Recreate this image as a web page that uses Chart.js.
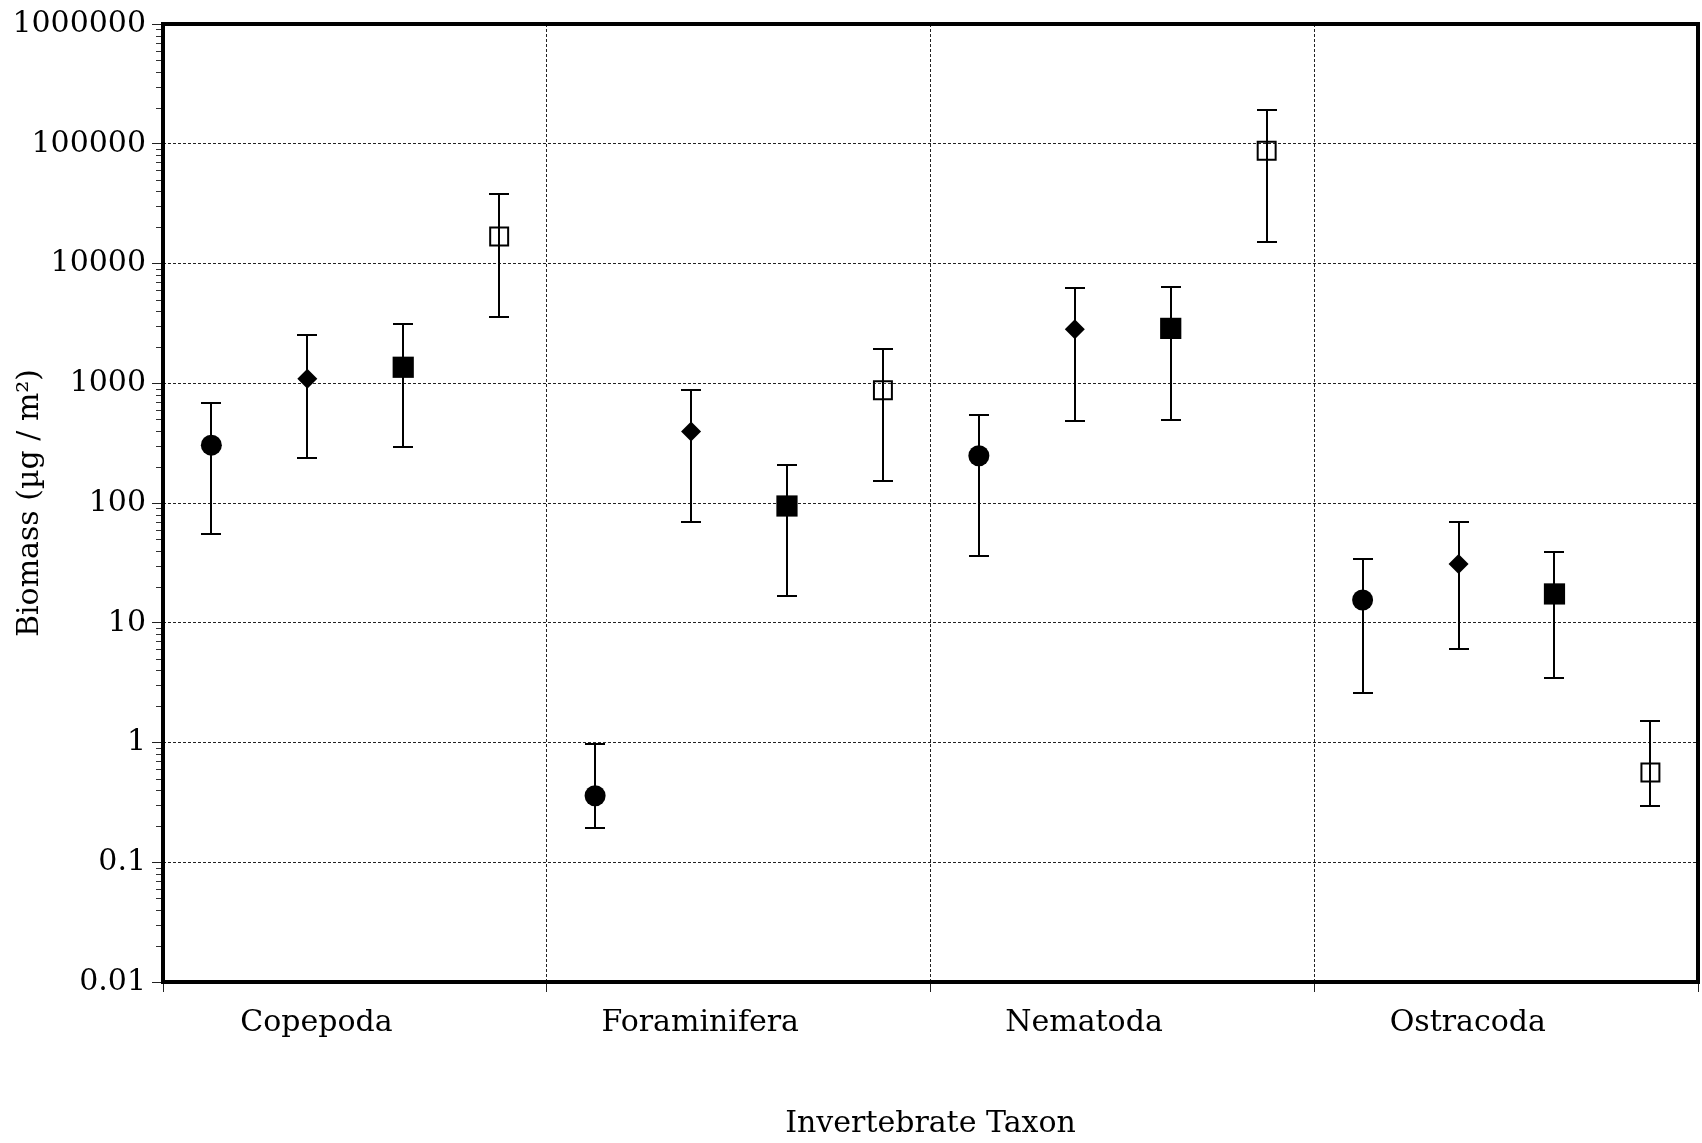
<!DOCTYPE html>
<html>
<head>
<meta charset="utf-8">
<script src="https://cdn.jsdelivr.net/npm/chart.js@4.4.1/dist/chart.umd.min.js"></script>
<style>
    html, body { margin: 0; padding: 0; background: #fff; overflow: hidden; }
    canvas { display: block; }
</style>
</head>
<body>
<canvas id="biomassChart" width="1702" height="1143"></canvas>
<script>
const taxa = ['Copepoda', 'Foraminifera', 'Nematoda', 'Ostracoda'];
const yTickLabels = ['0.01', '0.1', '1', '10', '100', '1000', '10000', '100000', '1000000'];

// Mean biomass with lower / upper error limits, one value per taxon
const circleMean = [304, 0.359, 248, 15.5];
const circleLow = [55, 0.194, 35.9, 2.59];
const circleHigh = [689, 0.968, 544, 34.3];

const diamondMean = [1092, 395, 2818, 31.0];
const diamondLow = [237, 68.9, 482, 6.03];
const diamondHigh = [2512, 879, 6223, 69.5];

const squareMean = [1360, 94.4, 2872, 17.4];
const squareLow = [294, 16.7, 497, 3.45];
const squareHigh = [3120, 208, 6386, 39.3];

const openSquareMean = [16790, 874, 87400, 0.562];
const openSquareLow = [3590, 153, 15060, 0.296];
const openSquareHigh = [38300, 1942, 193000, 1.51];

const FONT = { family: "'DejaVu Serif', serif", size: 30 };
const GRID_COLOR = '#222';
const LABEL_POS = 0.4;   // where the taxon name sits inside its unit

// each taxon occupies one unit on x; the four series sit at quarter steps inside it
function makeSeries(slot, mean, low, high, style) {
    return Object.assign({
        data: mean.map((v, i) => ({
            x: i + 0.126 + 0.25 * slot,
            y: v,
            low: low[i],
            high: high[i]
        })),
        borderColor: '#000',
        backgroundColor: '#000',
        borderWidth: 0
    }, style);
}

// vertical bars with caps, drawn under the markers
const errorBars = {
    id: 'errorBars',
    beforeDatasetsDraw(chart) {
        const { ctx } = chart;
        const y = chart.scales.y;
        ctx.save();
        ctx.strokeStyle = '#000';
        ctx.lineWidth = 2;
        chart.data.datasets.forEach((ds, di) => {
            chart.getDatasetMeta(di).data.forEach((pt, i) => {
                const x = Math.round(pt.x);
                const yLow = Math.round(y.getPixelForValue(ds.data[i].low));
                const yHigh = Math.round(y.getPixelForValue(ds.data[i].high));
                ctx.beginPath();
                ctx.moveTo(x, yLow);
                ctx.lineTo(x, yHigh);
                ctx.moveTo(x - 10, yLow);
                ctx.lineTo(x + 10, yLow);
                ctx.moveTo(x - 10, yHigh);
                ctx.lineTo(x + 10, yHigh);
                ctx.stroke();
            });
        });
        ctx.restore();
    }
};

// heavy box round the plot and the short minor ticks of the log axis
const frame = {
    id: 'frame',
    afterDraw(chart) {
        const { ctx, chartArea: a } = chart;
        const y = chart.scales.y;
        ctx.save();
        ctx.strokeStyle = '#333';
        ctx.lineWidth = 1;
        ctx.beginPath();
        for (let e = -2; e < 6; e++) {
            for (let m = 2; m <= 9; m++) {
                const py = Math.round(y.getPixelForValue(m * Math.pow(10, e))) + 0.5;
                ctx.moveTo(a.left - 7, py);
                ctx.lineTo(a.left, py);
            }
        }
        ctx.stroke();
        ctx.strokeStyle = '#000';
        ctx.lineWidth = 4;
        ctx.strokeRect(a.left, a.top, a.right - a.left, a.bottom - a.top);
        ctx.restore();
    }
};

new Chart(document.getElementById('biomassChart'), {
    type: 'scatter',
    data: {
        datasets: [
            makeSeries(0, circleMean, circleLow, circleHigh, { pointStyle: 'circle', pointRadius: 10.5 }),
            makeSeries(1, diamondMean, diamondLow, diamondHigh, { pointStyle: 'rectRot', pointRadius: 10 }),
            makeSeries(2, squareMean, squareLow, squareHigh, { pointStyle: 'rect', pointRadius: 15 }),
            makeSeries(3, openSquareMean, openSquareLow, openSquareHigh, {
                pointStyle: 'rect', pointRadius: 12.7,
                backgroundColor: 'rgba(0,0,0,0)', borderWidth: 2
            })
        ]
    },
    options: {
        responsive: false,
        animation: false,
        devicePixelRatio: 1,
        events: [],
        // no extra room for big markers, the plot box is fixed
        layout: { autoPadding: false, padding: { top: 21, right: 4, bottom: 0, left: 0 } },
        plugins: { legend: { display: false }, tooltip: { enabled: false } },
        scales: {
            x: {
                type: 'linear',
                min: 0,
                max: taxa.length,
                // boundary ticks at whole units, name ticks just left of the middle
                afterBuildTicks: s => {
                    s.ticks = [];
                    for (let i = 0; i <= taxa.length; i++) {
                        s.ticks.push({ value: i });
                        if (i < taxa.length) s.ticks.push({ value: i + LABEL_POS });
                    }
                },
                afterFit: s => {
                    s.height = 161;
                    s.paddingLeft = 0;
                    s.paddingRight = 0;
                },
                grid: {
                    color: GRID_COLOR,
                    lineWidth: c => (c.tick && c.tick.value % 1 === 0 ? 1 : 0),
                    tickLength: 10
                },
                border: { display: false, dash: [3, 2] },
                ticks: {
                    autoSkip: false,
                    maxRotation: 0,
                    padding: 13,
                    color: '#000',
                    font: FONT,
                    callback: v => (v % 1 === 0 ? '' : taxa[Math.floor(v)])
                },
                title: {
                    display: true,
                    text: 'Invertebrate Taxon',
                    color: '#000',
                    font: FONT,
                    padding: { top: 0, bottom: 1 }
                }
            },
            y: {
                type: 'logarithmic',
                min: 0.01,
                max: 1000000,
                afterBuildTicks: s => {
                    s.ticks = yTickLabels.map(t => ({ value: Number(t) }));
                },
                afterFit: s => { s.width = 163; },
                grid: { color: GRID_COLOR, tickLength: 11 },
                border: { display: false, dash: [3, 2] },
                ticks: {
                    padding: 6,
                    color: '#000',
                    font: FONT,
                    callback: (v, i) => yTickLabels[i]
                },
                title: {
                    display: true,
                    text: 'Biomass (µg / m²)',
                    color: '#000',
                    font: FONT,
                    padding: { top: 12, bottom: 0 }
                }
            }
        }
    },
    plugins: [errorBars, frame]
});
</script>
</body>
</html>
